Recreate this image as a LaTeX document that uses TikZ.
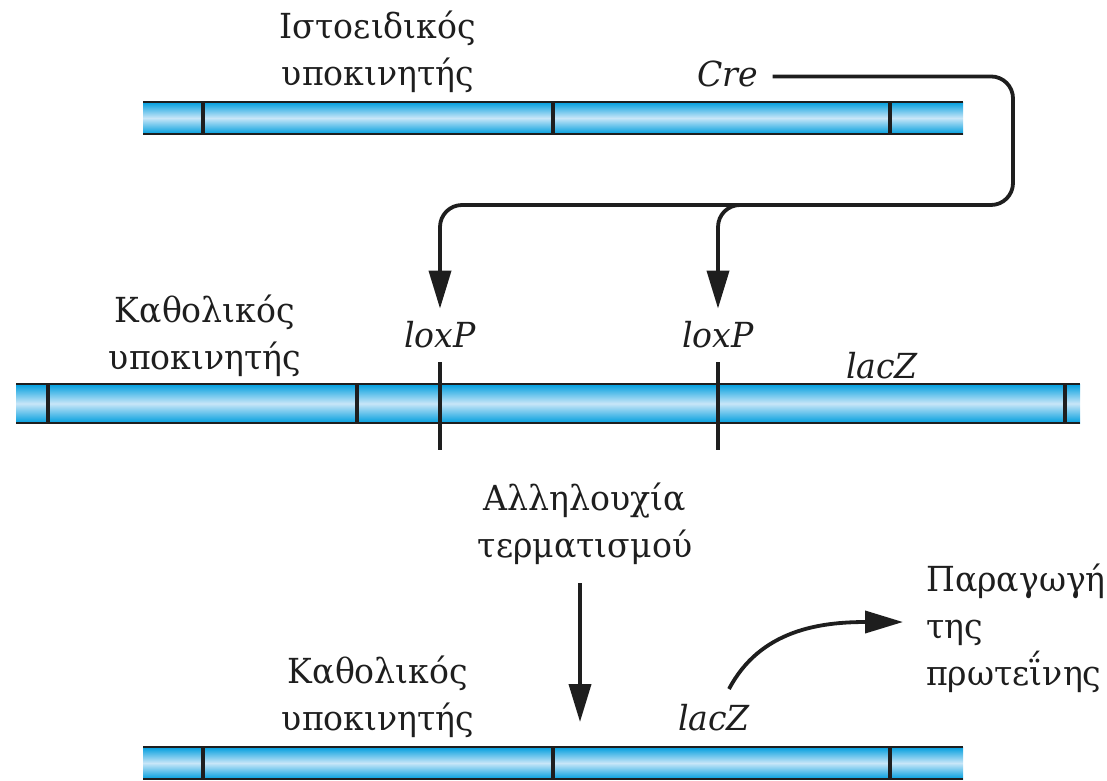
\documentclass[tikz,border=0pt]{standalone}
\usepackage{fontspec}
\setmainfont{DejaVu Serif}
\newfontfamily\grk[FakeStretch=0.96]{DejaVu Serif}
\usetikzlibrary{arrows.meta}
\definecolor{barblue}{RGB}{0,158,222}
\definecolor{barlight}{RGB}{200,230,248}
\definecolor{ink}{RGB}{30,30,30}
\tikzset{
  lbl/.style={font=\grk\fontsize{34.5}{47}\selectfont, text=ink, inner sep=0pt, align=center},
  lblit/.style={font=\grk\fontsize{34.5}{47}\selectfont\itshape, text=ink, inner sep=0pt},
  conn/.style={line width=3.8pt, draw=ink, -{Triangle[length=38pt,width=22pt]}},
  divider/.style={line width=3.8pt, draw=ink},
  edge/.style={line width=2.8pt, draw=ink},
}
\begin{document}
\begin{tikzpicture}[x=1pt,y=-1pt]
\useasboundingbox (0,0) rectangle (1107,780);
% ---------- top bar ----------
\shade[top color=barblue, bottom color=barblue, middle color=barlight] (143,102) rectangle (963,134);
\draw[edge] (143,102) -- (963,102);
\draw[edge] (143,134) -- (963,134);
\foreach \x in {203,553,890} \draw[divider] (\x,102) -- (\x,134);
% ---------- middle bar ----------
\shade[top color=barblue, bottom color=barblue, middle color=barlight] (16,384) rectangle (1080,423);
\draw[edge] (16,384) -- (1080,384);
\draw[edge] (16,423) -- (1080,423);
\foreach \x in {48,357,1065} \draw[divider] (\x,384) -- (\x,423);
\draw[divider] (440,362) -- (440,450);
\draw[divider] (718,362) -- (718,450);
% ---------- bottom bar ----------
\shade[top color=barblue, bottom color=barblue, middle color=barlight] (143,747) rectangle (963,779);
\draw[edge] (143,747) -- (963,747);
\draw[edge] (143,779) -- (963,779);
\foreach \x in {203,553,890} \draw[divider] (\x,747) -- (\x,779);
% ---------- labels ----------
\node[lbl, anchor=base] (ist) at (378,85) {Ιστοειδικός\\υποκινητής};
\node[lblit, anchor=base] (cre) at (728,86) {Cre};
\node[lbl, anchor=base] (kath1) at (205,369) {Καθολικός\\υποκινητής};
\node[lblit, anchor=base] (loxA) at (440,347) {loxP};
\node[lblit, anchor=base] (loxB) at (718,347) {loxP};
\node[lblit, anchor=base] (lacA) at (882,378) {lacZ};
\node[lbl, anchor=base] (term) at (585,557) {Αλληλουχία\\τερματισμού};
\node[lbl, anchor=base] (kath2) at (378,730) {Καθολικός\\υποκινητής};
\node[lblit, anchor=base] (lacB) at (714,730) {lacZ};
\node[lbl, anchor=base west, align=left] (prod) at (926,685) {Παραγωγή\\της\\πρωτεΐνης};
% ---------- connectors ----------
\coordinate (rc) at (1013,205);
\coordinate (br) at (750,205);
\coordinate (downA) at (580,583);
\coordinate (downB) at (580,722);
\coordinate (cs) at (729,689);
\coordinate (ce) at (903,622);
\draw[conn, rounded corners=22pt] ([xshift=14pt,yshift=-3pt]cre.east) -| (rc) -| ([yshift=12pt]loxA.north);
\draw[conn, rounded corners=22pt] (br) -| ([yshift=12pt]loxB.north);
\draw[conn] (downA) -- (downB);
\draw[conn] (cs) .. controls (760,630) and (820,622) .. (ce);
\end{tikzpicture}
\end{document}
